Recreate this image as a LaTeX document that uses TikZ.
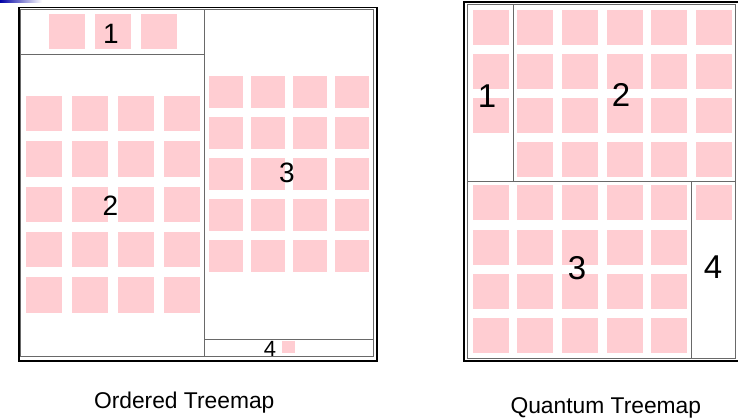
\documentclass[tikz,border=0pt]{standalone}
\usepackage{fontspec}
\setmainfont{Liberation Sans}
\definecolor{cellpink}{RGB}{255,205,210}
\definecolor{divgray}{RGB}{105,105,105}

\begin{document}
\begin{tikzpicture}[
    x=1pt, y=-1pt,
    cell/.style={fill=cellpink},
    outer/.style={draw=black, line width=1.8pt},
    inner/.style={draw=divgray, line width=1pt},
    num/.style={inner sep=0pt, font=\fontsize{28}{28}\selectfont},
    bignum/.style={inner sep=0pt, font=\fontsize{33}{33}\selectfont},
    captext/.style={inner sep=0pt, anchor=base, font=\fontsize{22.8}{23}\selectfont}
  ]
  \useasboundingbox (0,0) rectangle (738,419);
  \shade[left color=blue!65!black, right color=white] (0,0) rectangle (42,2.5);
  % ordered treemap
  \foreach \i in {0,1,2}
    \fill[cell] (49.3+45.8*\i,14) rectangle ++(36,35.5);
  \foreach \i in {0,...,3}
    \foreach \j in {0,...,4}
      \fill[cell] (26+46*\i,96+45.3*\j) rectangle ++(36,35.5);
  \foreach \i in {0,...,3}
    \foreach \j in {0,...,4}
      \fill[cell] (209+42*\i,75.7+41.2*\j) rectangle ++(33.5,32);
  \fill[cell] (282.3,341) rectangle (295,352.7);
  \draw[outer] (18.7,7.6) rectangle (376.6,360.6);
  \draw[inner] (20.8,9.5) rectangle (373.2,356.2);
  \draw[inner] (204.7,9.5) -- (204.7,356.2)
    (20.8,54.7) -- (204.7,54.7)
    (204.7,339.3) -- (373.2,339.3);
  \node (o1) [num] at (111,34.2) {1};
  \node (o2) [num] at (110.5,206) {2};
  \node (o3) [num] at (287,173) {3};
  \node (o4) [num, font=\fontsize{22}{22}\selectfont] at (270,349.3) {4};
  \node (ordered) [captext] at (184.2,408.5) {Ordered Treemap};
  % quantum treemap
  \foreach \j in {0,1,2}
    \fill[cell] (472.7,10+44*\j) rectangle ++(36,35);
  \foreach \i in {1,...,5}
    \foreach \j in {0,...,3}
      \fill[cell] (472.7+44.6*\i,10+44*\j) rectangle ++(36,35);
  \foreach \i in {0,...,4}
    \foreach \j in {0,...,3}
      \fill[cell] (472.7+44.6*\i,185.5+44.2*\j) rectangle ++(36,35);
  \fill[cell] (695.7,185.5) rectangle ++(36,35);
  \draw[outer] (464,2) rectangle (740,360.6);
  \draw[inner] (467.3,4.8) rectangle (735.6,358);
  \draw[inner] (513.3,4.8) -- (513.3,181.7)
    (467.3,181.7) -- (735.6,181.7)
    (691,181.7) -- (691,358);
  \node (q1) [bignum] at (487,96) {1};
  \node (q2) [bignum] at (621,95) {2};
  \node (q3) [bignum] at (577,268) {3};
  \node (q4) [bignum] at (713,267) {4};
  \node (quantum) [captext] at (605.8,413.5) {Quantum Treemap};
\end{tikzpicture}
\end{document}
